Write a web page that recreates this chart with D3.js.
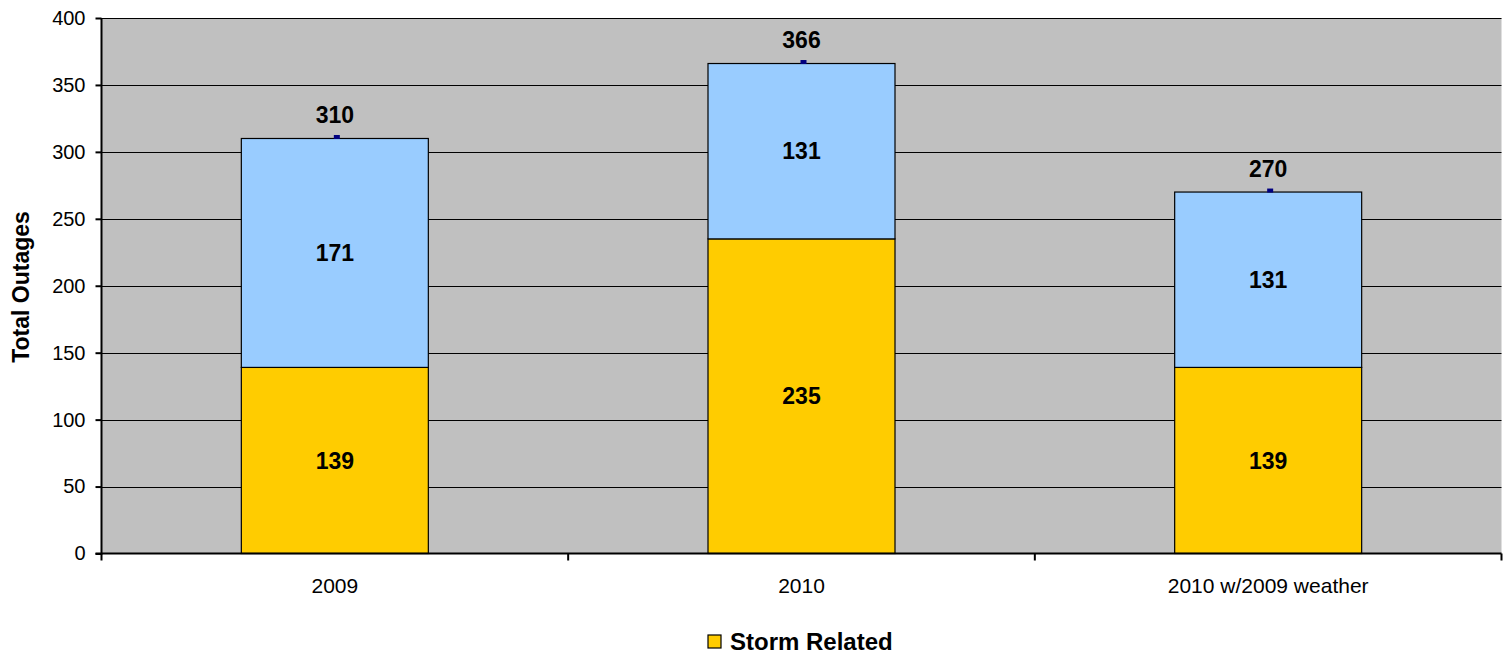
<!DOCTYPE html>
<html><head><meta charset="utf-8">
<script src="https://cdn.jsdelivr.net/npm/d3@7"></script>
<style>body{margin:0;background:#fff;}svg{display:block;font-family:"Liberation Sans",Arial,sans-serif;}</style>
</head><body>
<svg id="c" width="1503" height="654"></svg>
<script>
const categories = ["2009", "2010", "2010 w/2009 weather"];
const stormRelated = [139, 235, 139];
const nonStorm = [171, 131, 131];
const totals = [310, 366, 270];
const yTicks = [0, 50, 100, 150, 200, 250, 300, 350, 400];

const svg = d3.select("#c");
const m = {l: 101.5, r: 1501.5, t: 18, b: 553.5};
const x = d3.scaleBand().domain(categories).range([m.l, m.r]).paddingInner(0).paddingOuter(0);
const y = d3.scaleLinear().domain([0, 400]).range([m.b, m.t]);
const bw = 187;

svg.append("rect").attr("x", m.l).attr("y", m.t).attr("width", m.r - m.l).attr("height", m.b - m.t).attr("fill", "#c0c0c0");

svg.append("g").selectAll("line").data(yTicks.filter(d => d > 0)).join("line")
  .attr("x1", m.l).attr("x2", m.r).attr("y1", d => Math.round(y(d)) + 0.5).attr("y2", d => Math.round(y(d)) + 0.5)
  .attr("stroke", "#000").attr("stroke-width", 1);

const cx = d => x(d) + x.bandwidth() / 2;

const g = svg.append("g");
categories.forEach((c, i) => {
  g.append("rect").attr("x", cx(c) - bw / 2).attr("y", y(stormRelated[i])).attr("width", bw)
    .attr("height", y(0) - y(stormRelated[i])).attr("fill", "#ffcc00").attr("stroke", "#000").attr("stroke-width", 1.2);
  g.append("rect").attr("x", cx(c) - bw / 2).attr("y", y(stormRelated[i] + nonStorm[i])).attr("width", bw)
    .attr("height", y(stormRelated[i]) - y(stormRelated[i] + nonStorm[i])).attr("fill", "#99ccff").attr("stroke", "#000").attr("stroke-width", 1.2);
  g.append("text").attr("x", cx(c)).attr("y", y(stormRelated[i] / 2)).attr("dy", "0.35em")
    .attr("text-anchor", "middle").attr("font-weight", "bold").attr("font-size", 23).text(stormRelated[i]);
  g.append("text").attr("x", cx(c)).attr("y", y(stormRelated[i] + nonStorm[i] / 2)).attr("dy", "0.35em")
    .attr("text-anchor", "middle").attr("font-weight", "bold").attr("font-size", 23).text(nonStorm[i]);
  g.append("rect").attr("x", cx(c) - 1).attr("y", y(totals[i]) - 3.5).attr("width", 6).attr("height", 4).attr("fill", "#000080");
  g.append("text").attr("x", cx(c)).attr("y", y(totals[i]) - 23.5).attr("dy", "0.35em")
    .attr("text-anchor", "middle").attr("font-weight", "bold").attr("font-size", 23).text(totals[i]);
});

// axes
const ya = svg.append("g").attr("transform", `translate(${m.l},0)`)
  .call(d3.axisLeft(y).tickValues(yTicks).tickSize(6).tickPadding(10));
ya.select(".domain").remove();
ya.selectAll("line").attr("stroke", "#000").attr("stroke-width", 2);
ya.selectAll("text").attr("font-size", 20).attr("fill", "#000").attr("font-family", "Liberation Sans, Arial");
svg.append("line").attr("x1", m.l).attr("x2", m.l).attr("y1", m.t).attr("y2", m.b + 1).attr("stroke", "#000").attr("stroke-width", 2);

const xa = svg.append("g").attr("transform", `translate(0,${m.b})`)
  .call(d3.axisBottom(x).tickSize(0).tickPadding(25));
xa.select(".domain").remove();
xa.selectAll("text").attr("font-size", 21).attr("fill", "#000").attr("font-family", "Liberation Sans, Arial");
svg.append("line").attr("x1", m.l - 6).attr("x2", m.r).attr("y1", m.b).attr("y2", m.b).attr("stroke", "#000").attr("stroke-width", 2);
const xb = [...categories.map(c => x(c)), m.r];
svg.append("g").selectAll("line").data(xb).join("line")
  .attr("x1", d => d).attr("x2", d => d).attr("y1", m.b).attr("y2", m.b + 7).attr("stroke", "#000").attr("stroke-width", 2);

svg.append("text").attr("transform", `translate(29,287) rotate(-90)`)
  .attr("text-anchor", "middle").attr("font-weight", "bold").attr("font-size", 23).text("Total Outages");

// legend
svg.append("rect").attr("x", 708).attr("y", 635).attr("width", 13).attr("height", 13).attr("fill", "#ffcc00").attr("stroke", "#000").attr("stroke-width", 1.2);
svg.append("text").attr("x", 730).attr("y", 642).attr("dy", "0.35em").attr("font-weight", "bold").attr("font-size", 24).text("Storm Related");
</script>
</body></html>
